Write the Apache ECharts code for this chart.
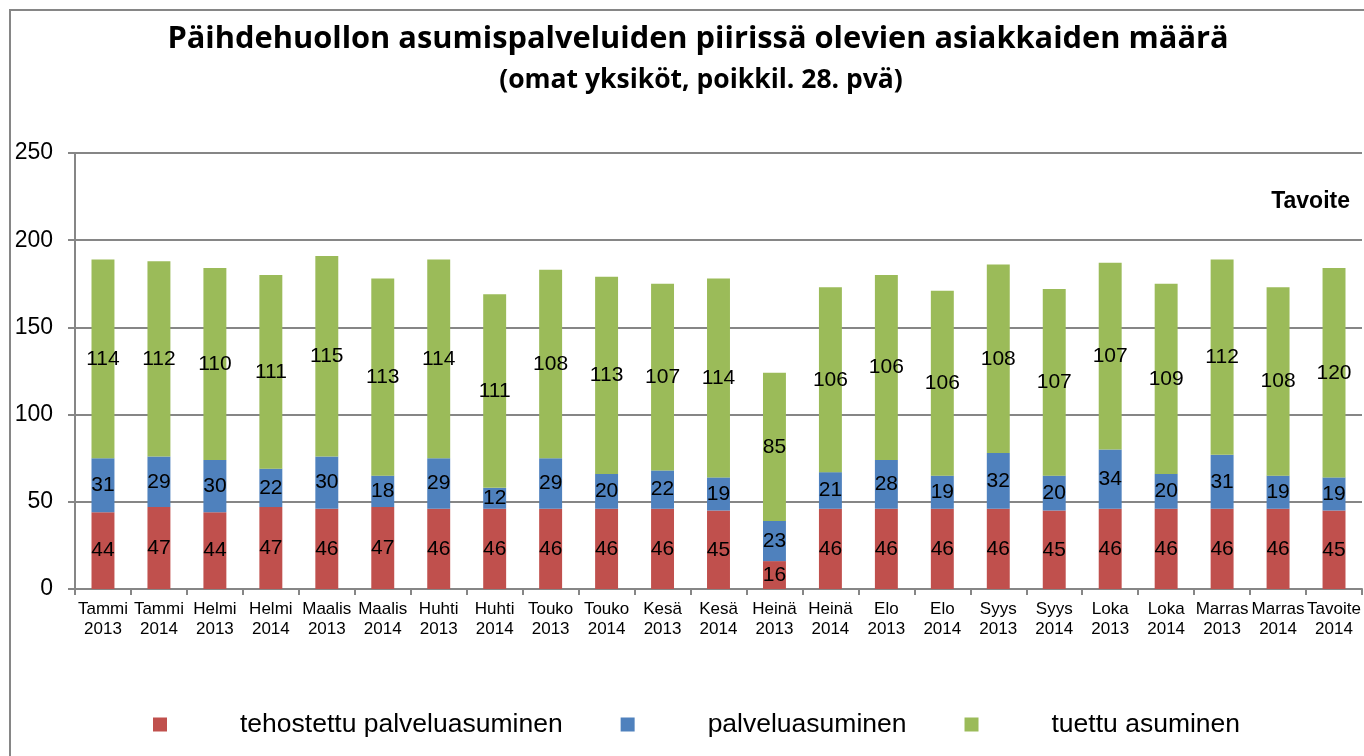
<!DOCTYPE html>
<html>
<head>
<meta charset="utf-8">
<script src="https://cdn.jsdelivr.net/npm/echarts@6/dist/echarts.min.js"></script>
<style>
  html, body { margin: 0; padding: 0; background: #fff; }
  #chart { width: 1364px; height: 756px; }
</style>
</head>
<body>
<div id="chart"></div>
<script>
// kuukaudet / categories
const categories = [
  'Tammi\n2013', 'Tammi\n2014', 'Helmi\n2013', 'Helmi\n2014', 'Maalis\n2013', 'Maalis\n2014',
  'Huhti\n2013', 'Huhti\n2014', 'Touko\n2013', 'Touko\n2014', 'Kesä\n2013', 'Kesä\n2014',
  'Heinä\n2013', 'Heinä\n2014', 'Elo\n2013', 'Elo\n2014', 'Syys\n2013', 'Syys\n2014',
  'Loka\n2013', 'Loka\n2014', 'Marras\n2013', 'Marras\n2014', 'Tavoite\n2014'
]

const tehostettu = [44, 47, 44, 47, 46, 47, 46, 46, 46, 46, 46, 45, 16, 46, 46, 46, 46, 45, 46, 46, 46, 46, 45]
const palvelu = [31, 29, 30, 22, 30, 18, 29, 12, 29, 20, 22, 19, 23, 21, 28, 19, 32, 20, 34, 20, 31, 19, 19]
const tuettu = [114, 112, 110, 111, 115, 113, 114, 111, 108, 113, 107, 114, 85, 106, 106, 106, 108, 107, 107, 109, 112, 108, 120]

const seriesNames = ['tehostettu palveluasuminen', 'palveluasuminen', 'tuettu asuminen']
const colors = ['#C0504D', '#4F81BD', '#9BBB59']

const chart = echarts.init(document.getElementById('chart'))

const labelStyle = {
  show: true,
  position: 'inside',
  color: '#000',
  fontSize: 21,
  fontFamily: 'Liberation Sans'
}

const makeSeries = (name, data, color) => ({
  name: name,
  type: 'bar',
  stack: 'total',
  barWidth: '41%',
  data: data,
  itemStyle: { color: color },
  label: labelStyle
})

const option = {
  animation: false,
  textStyle: { fontFamily: 'Liberation Sans' },
  title: [
    {
      text: 'Päihdehuollon asumispalveluiden piirissä olevien asiakkaiden määrä',
      left: 693,
      top: 19,
      textAlign: 'center',
      textStyle: { fontSize: 30.8, fontWeight: 'bold', color: '#000', fontFamily: 'Open Sans' }
    },
    {
      text: '(omat yksiköt, poikkil. 28. pvä)',
      left: 696,
      top: 62,
      textAlign: 'center',
      textStyle: { fontSize: 26.5, fontWeight: 'bold', color: '#000', fontFamily: 'Open Sans' }
    },
    {
      text: 'Tavoite',
      right: 9,
      top: 185,
      textStyle: { fontSize: 23, fontWeight: 'bold', color: '#000', fontFamily: 'Liberation Sans' }
    }
  ],
  legend: {
    top: 711,
    left: 153,
    padding: 0,
    icon: 'rect',
    itemWidth: 14,
    itemHeight: 14,
    itemGap: 58,
    data: seriesNames,
    textStyle: { fontSize: 26.5, color: '#000', padding: [0, 0, 0, 68], fontFamily: 'Liberation Sans' }
  },
  grid: {
    left: 75,
    right: 2,
    top: 153,
    bottom: 167
  },
  xAxis: {
    type: 'category',
    data: categories,
    axisLine: { lineStyle: { color: '#868686', width: 2 } },
    axisTick: { show: true, length: 6, lineStyle: { color: '#868686', width: 2 } },
    axisLabel: {
      interval: 0,
      color: '#000',
      fontSize: 17,
      lineHeight: 20,
      margin: 10
    }
  },
  yAxis: {
    type: 'value',
    min: 0,
    max: 250,
    interval: 50,
    axisLine: { show: true, lineStyle: { color: '#868686', width: 2 } },
    axisTick: { show: true, length: 7, lineStyle: { color: '#868686', width: 2 } },
    axisLabel: { color: '#000', fontSize: 23, margin: 22 },
    splitLine: { lineStyle: { color: '#868686', width: 2 } }
  },
  graphic: [
    {
      type: 'rect',
      shape: { x: 10, y: 10, width: 1400, height: 800 },
      style: { fill: 'none', stroke: '#868686', lineWidth: 2 },
      silent: true
    }
  ],
  series: [
    makeSeries(seriesNames[0], tehostettu, colors[0]),
    makeSeries(seriesNames[1], palvelu, colors[1]),
    makeSeries(seriesNames[2], tuettu, colors[2])
  ]
}

chart.setOption(option)
</script>
</body>
</html>
